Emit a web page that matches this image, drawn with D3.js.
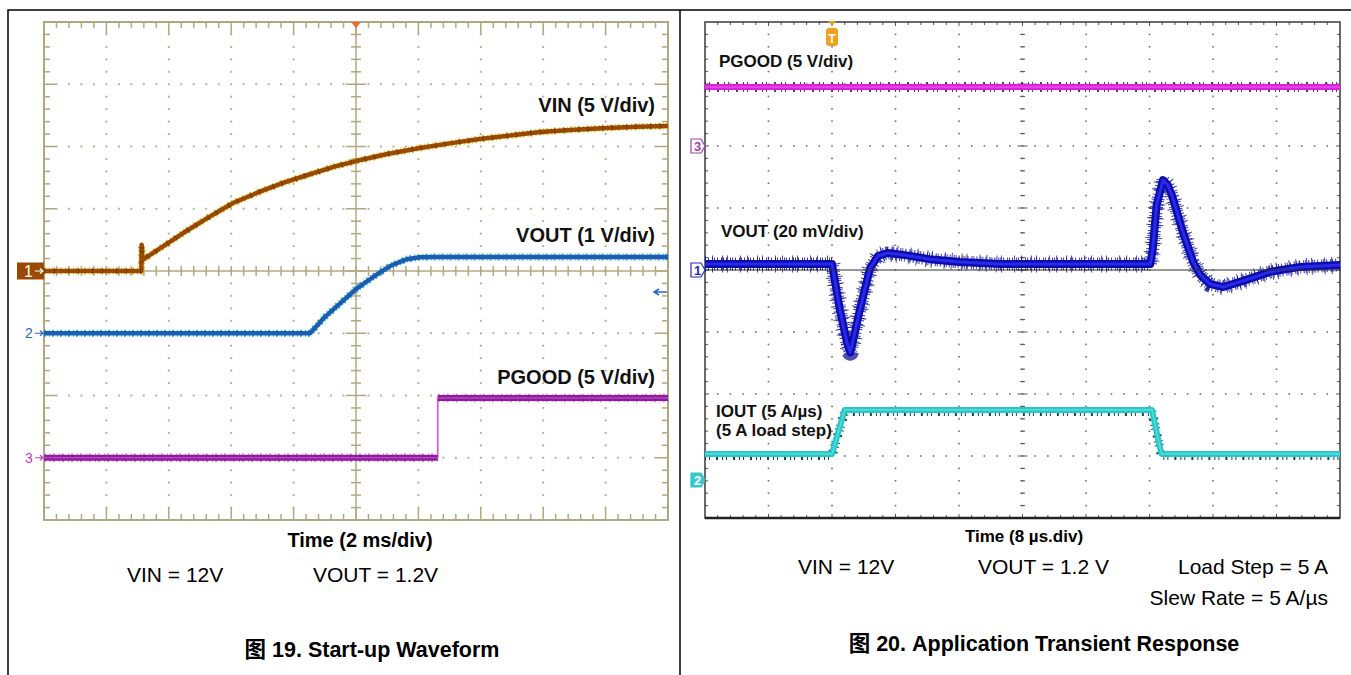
<!DOCTYPE html>
<html><head><meta charset="utf-8">
<script src="https://cdn.jsdelivr.net/npm/d3@7"></script>
<style>
body{margin:0;background:#fff;}
svg{display:block;}
text{font-family:"Liberation Sans",Arial,"Noto Sans CJK SC",sans-serif;}
</style>
</head><body>
<svg id="c" width="1351" height="675"></svg>
<script>
// ---------------- DATA ----------------
// Figure 19: start-up (time in ms, trigger at 0; 2 ms/div)
const startTime = [-10, -6.88, -6.87, -6.84, -6.5, -5.54, -4.7, -3.94, -3.1, -2.34, -1.5, -0.74, 0, 1.0, 2.05, 3.0, 3.97, 5.0, 5.9, 7.0, 8.04, 9.0, 10];
const vinVolts  = [0, 0, 2.1, 0.9, 1.45, 3.05, 4.35, 5.46, 6.35, 7.07, 7.75, 8.35, 8.83, 9.4, 9.88, 10.25, 10.6, 10.9, 11.16, 11.35, 11.49, 11.58, 11.65];
const voutStartTime = [-10, -1.47, -1.0, -0.51, 0, 0.54, 1.09, 1.63, 2.05, 2.5, 10];
const voutStartVolts = [0, 0, 0.26, 0.48, 0.71, 0.90, 1.08, 1.19, 1.22, 1.225, 1.225];
const pgoodStartTime = [-10, 2.62, 2.62, 10];
const pgoodStartVolts = [0, 0, 4.8, 4.8];

// Figure 20: load transient (time in µs, trigger at 0; 8 µs/div)
const transTime = [-40, -24.0, -23.0, -22.1, -21.7, -21.4, -20.5, -19.2, -18.2, -17.0, -14.8, -11.7, -7.9, -2.8, 16.1, 16.4, 16.9, 17.7, 18.3, 18.9, 20.2, 21.5, 22.4, 23.6, 25.3, 27.8, 31.2, 35.0, 40];
const voutRipple_mV = [1.9, 1.9, -12.9, -23.5, -26.5, -23.5, -12.9, 0.6, 4.5, 5.5, 4.8, 3.5, 2.6, 1.9, 1.9, 6.5, 21, 29, 27.4, 23.5, 12.3, 2.6, -1.6, -4.5, -5.5, -3.5, -0.6, 1.0, 1.6];
const pgoodTransTime = [-40, 40];
const pgoodTransVolts = [4.76, 4.76];
const ioutTime = [-40, -24.0, -22.4, 16.3, 17.5, 40];
const ioutDiv = [0.42, 0.42, 1.13, 1.13, 0.42, 0.42]; // divisions above channel-2 marker

const leftLabels = ["VIN (5 V/div)", "VOUT (1 V/div)", "PGOOD (5 V/div)"];
const rightLabels = ["PGOOD (5 V/div)", "VOUT (20 mV/div)", "IOUT (5 A/µs)", "(5 A load step)"];

// ---------------- DRAW ----------------
const svg = d3.select("#c");

// panel borders
svg.append("path").attr("d", "M8,675V10H1351M680,10V675").attr("fill","none").attr("stroke","#000").attr("stroke-width",1.5);

function drawGrid(g, sx, sy, o){
  const minX = d3.range(0, 10.0001, 0.2).map(d=>+d.toFixed(1));
  const minY = d3.range(0, 8.0001, 0.2).map(d=>+d.toFixed(1));
  const dots = [];
  for (let i=1;i<10;i++) if(i!==5 || o.centerVDots) minY.forEach(d=>{ if(d>0&&d<8) dots.push([sx(i), sy(d)]); });
  for (let j=1;j<8;j++) if(j!==4) minX.forEach(d=>{ if(d>0&&d<10 && Math.abs(d-Math.round(d))>0.01) dots.push([sx(d), sy(j)]); });
  g.append("g").selectAll("rect").data(dots).join("rect")
    .attr("x",d=>d[0]-o.dot/2).attr("y",d=>d[1]-o.dot/2).attr("width",o.dot).attr("height",o.dot).attr("fill",o.dotColor);
  const ticks = [];
  const isMajor = d => Math.abs(d-Math.round(d))<0.01;
  minX.forEach(d=>{ if(d>0&&d<10){ const L = isMajor(d)?o.majLen:o.minLen;
    ticks.push([sx(d), sy(8), sx(d), sy(8)+L]); ticks.push([sx(d), sy(0), sx(d), sy(0)-L]);
    if(o.centerHTicks) ticks.push([sx(d), sy(4)-o.cross, sx(d), sy(4)+o.cross]); }});
  minY.forEach(d=>{ if(d>0&&d<8){ const L = isMajor(d)?o.majLen:o.minLen;
    ticks.push([sx(0), sy(d), sx(0)+L, sy(d)]); ticks.push([sx(10), sy(d), sx(10)-L, sy(d)]);
    const c = isMajor(d)?o.cross*2:o.cross;
    ticks.push([sx(5)-c, sy(d), sx(5)+c, sy(d)]); }});
  g.append("g").selectAll("line").data(ticks).join("line")
    .attr("x1",d=>d[0]).attr("y1",d=>d[1]).attr("x2",d=>d[2]).attr("y2",d=>d[3])
    .attr("stroke",o.tickColor).attr("stroke-width",o.tickW);
  if(o.centerVLine) g.append("line").attr("x1",sx(5)).attr("x2",sx(5)).attr("y1",sy(8)).attr("y2",sy(0)).attr("stroke",o.frameColor).attr("stroke-width",o.centerW);
  if(o.centerHLine) g.append("line").attr("x1",sx(0)).attr("x2",sx(10)).attr("y1",sy(4)).attr("y2",sy(4)).attr("stroke",o.frameColor).attr("stroke-width",o.centerW);
  g.append("rect").attr("x",sx(0)).attr("y",sy(8)).attr("width",sx(10)-sx(0)).attr("height",sy(0)-sy(8))
    .attr("fill","none").attr("stroke",o.frameColor).attr("stroke-width",o.frameW);
}

function trace(g, pts, x, y, layers){
  const line = d3.line().defined(d=>d!==null).x(d=>x(d.t)).y(d=>y(d.v));
  layers.forEach(L=>{
    g.append("path").datum(L.data||pts).attr("d",line).attr("fill","none")
      .attr("stroke",L.c).attr("stroke-width",L.w).attr("stroke-dasharray",L.dash||null)
      .attr("opacity",L.op||1).attr("stroke-linejoin","round")
      .attr("transform", L.dy ? `translate(0,${L.dy})` : null);
  });
}
const zip = (T,V)=>T.map((t,i)=>({t, v:V[i]}));

// ---------- LEFT: Figure 19 ----------
const gl = svg.append("g");
const lx = d3.scaleLinear().domain([-10,10]).range([44,668]);
const ldx = d3.scaleLinear().domain([0,10]).range([44,668]);
const ldy = d3.scaleLinear().domain([0,8]).range([520,22]);
drawGrid(gl, ldx, ldy, {dot:2, dotColor:"#b8b196", majLen:12, minLen:6, cross:5, tickColor:"#b2a87f", tickW:1.5,
  frameColor:"#b2a87f", frameW:2, centerW:1.5, centerVLine:true, centerHLine:true, centerHTicks:true});

const yVin = v => ldy(4 + v/5);
const yVoutS = v => ldy(3 + v/1);
const yPgS = v => ldy(1 + v/5);

trace(gl, zip(startTime, vinVolts), lx, d=>yVin(d), [
  {c:"#e6c41a", w:7, dash:"2 3 1 2"}, {c:"#9a4a00", w:4.5}, {c:"#5a2a00", w:6, dash:"1 9 1 13", op:0.6}]);
trace(gl, zip(voutStartTime, voutStartVolts), lx, d=>yVoutS(d), [
  {c:"#2ab6d6", w:7, dash:"2 3 1 2"}, {c:"#1c5db2", w:4.5}]);
const pgS = zip(pgoodStartTime, pgoodStartVolts);
const pgSBroken = [];
pgS.forEach((d,i)=>{ if(i>0 && d.t===pgS[i-1].t) pgSBroken.push(null); pgSBroken.push(d); });
trace(gl, pgS, lx, d=>yPgS(d), [
  {c:"#cc66d6", w:1.8},
  {c:"#e07ae6", w:8.5, dash:"2 4 1 2", data:pgSBroken},
  {c:"#8e1a9e", w:6, data:pgSBroken},
  {c:"#e890ea", w:1, op:0.6, data:pgSBroken}]);

// trigger marker
gl.append("path").attr("d",`M${ldx(5)-5},22L${ldx(5)+5},22L${ldx(5)},28Z`).attr("fill","#f06a30");
// channel markers
gl.append("rect").attr("x",17).attr("y",ldy(4)-8.5).attr("width",27).attr("height",17).attr("fill","#9a4a00");
gl.append("text").attr("x",24).attr("y",ldy(4)+6).attr("fill","#fff").attr("font-size",16).text("1");
gl.append("path").attr("d",`M35,${ldy(4)}H43M40,${ldy(4)-2.5}L43,${ldy(4)}L40,${ldy(4)+2.5}`).attr("stroke","#fff").attr("stroke-width",1.2).attr("fill","none");
[[3,"#2a66c0","2"],[1,"#c040c0","3"]].forEach(([d,c,t])=>{
  gl.append("text").attr("x",25).attr("y",ldy(d)+5).attr("fill",c).attr("font-size",14).text(t);
  gl.append("path").attr("d",`M35,${ldy(d)}H43M40,${ldy(d)-2.5}L43,${ldy(d)}L40,${ldy(d)+2.5}`).attr("stroke",c).attr("stroke-width",1.2).attr("fill","none");
});
// off-screen arrow (ch2)
gl.append("path").attr("d","M667,292H655M659,289L654,292L659,295").attr("stroke","#2a66c0").attr("stroke-width",1.5).attr("fill","none");

// labels
const lLab = gl.append("g").attr("font-weight","bold").attr("font-size",20).attr("text-anchor","end").attr("fill","#111");
lLab.selectAll("text").data(leftLabels).join("text").attr("x",655).attr("y",(d,i)=>[112,242,384][i]).text(d=>d);
gl.append("text").attr("x",360).attr("y",547).attr("text-anchor","middle").attr("font-weight","bold").attr("font-size",20).text("Time (2 ms/div)");
gl.append("text").attr("x",127).attr("y",582).attr("font-size",21).text("VIN = 12V");
gl.append("text").attr("x",313).attr("y",582).attr("font-size",21).text("VOUT = 1.2V");
gl.append("text").attr("x",372).attr("y",657).attr("text-anchor","middle").attr("font-weight","bold").attr("font-size",21.5).text("图 19. Start-up Waveform");

// ---------- RIGHT: Figure 20 ----------
const gr = svg.append("g");
const rx = d3.scaleLinear().domain([-40,40]).range([705,1340]);
const rdx = d3.scaleLinear().domain([0,10]).range([705,1340]);
const rdy = d3.scaleLinear().domain([0,8]).range([518,22]);
drawGrid(gr, rdx, rdy, {dot:1.6, dotColor:"#6f6f6f", majLen:4, minLen:3, cross:2.5, tickColor:"#555", tickW:1,
  frameColor:"#3a3a3a", frameW:1.5, centerW:1.2, centerVLine:false, centerHLine:false, centerHTicks:false, centerVDots:true});
gr.append("line").attr("x1",rdx(0)).attr("x2",rdx(10)).attr("y1",rdy(0)).attr("y2",rdy(0)).attr("stroke","#222").attr("stroke-width",2.5);

const yPgR = v => rdy(6 + v/5);
const yVoutR = v => rdy(4 + v/20);
const yIout = v => rdy(0.613 + v);

trace(gr, zip(pgoodTransTime, pgoodTransVolts), rx, d=>yPgR(d), [
  {c:"#6e106e", w:10, dash:"1 3 1 7 2 5", op:0.9}, {c:"#d824d8", w:6}, {c:"#f060f0", w:1.5, op:0.7}]);
trace(gr, zip(transTime, voutRipple_mV), rx, d=>yVoutR(d), [
  {c:"#20209c", w:17, dash:"1 6 1 9 1 4 1 12", op:0.8},
  {c:"#14149c", w:13, dash:"1 2 1 3 1 1", op:0.85},
  {c:"#0c0cae", w:8},
  {c:"#2c2cf0", w:3, op:0.9}]);
trace(gr, zip(ioutTime, ioutDiv), rx, d=>yIout(d), [
  {c:"#0e4c4c", w:9, dash:"1 3 1 6 2 4", dy:1.5}, {c:"#28c8c8", w:6}, {c:"#7ee8e8", w:1.2, op:0.7}]);
// channel-1 reference line
gr.append("line").attr("x1",rdx(0)).attr("x2",rdx(10)).attr("y1",rdy(4)).attr("y2",rdy(4)).attr("stroke","#333").attr("stroke-width",1.2);

// markers
function tag(y, stroke, fill, txtColor, t){
  gr.append("path").attr("d",`M691,${y-7}H701L705,${y}L701,${y+7}H691Z`).attr("fill",fill).attr("stroke",stroke).attr("stroke-width",1.2);
  gr.append("text").attr("x",694).attr("y",y+5).attr("font-size",13).attr("font-weight","bold").attr("fill",txtColor).text(t);
}
tag(rdy(6), "#a040b0", "#fff", "#a040b0", "3");
tag(rdy(4), "#2a2ab8", "#fff", "#2a2ab8", "1");
tag(rdy(0.613), "#30c0c8", "#38c8d0", "#fff", "2");
const tx = rx(-24);
gr.append("path").attr("d",`M${tx-4},21H${tx+4}L${tx},26Z`).attr("fill","#f0a020");
gr.append("rect").attr("x",tx-6).attr("y",28).attr("width",12).attr("height",18).attr("rx",3).attr("fill","#f0a020");
gr.append("text").attr("x",tx).attr("y",43).attr("text-anchor","middle").attr("font-size",13).attr("font-weight","bold").attr("fill","#fff8e0").text("T");

const rLab = gr.append("g").attr("font-weight","bold").attr("font-size",17).attr("fill","#111");
rLab.selectAll("text").data(rightLabels).join("text")
  .attr("x",(d,i)=>[719,721,716,716][i]).attr("y",(d,i)=>[67,237,417,436][i]).text(d=>d);
gr.append("text").attr("x",1024).attr("y",542).attr("text-anchor","middle").attr("font-weight","bold").attr("font-size",17).text("Time (8 µs.div)");
gr.append("text").attr("x",798).attr("y",574).attr("font-size",21).text("VIN = 12V");
gr.append("text").attr("x",978).attr("y",574).attr("font-size",21).text("VOUT = 1.2 V");
gr.append("text").attr("x",1328).attr("y",574).attr("text-anchor","end").attr("font-size",21).text("Load Step = 5 A");
gr.append("text").attr("x",1328).attr("y",605).attr("text-anchor","end").attr("font-size",21).text("Slew Rate = 5 A/µs");
gr.append("text").attr("x",1044).attr("y",651).attr("text-anchor","middle").attr("font-weight","bold").attr("font-size",21.5).text("图 20. Application Transient Response");
</script>
</body></html>
